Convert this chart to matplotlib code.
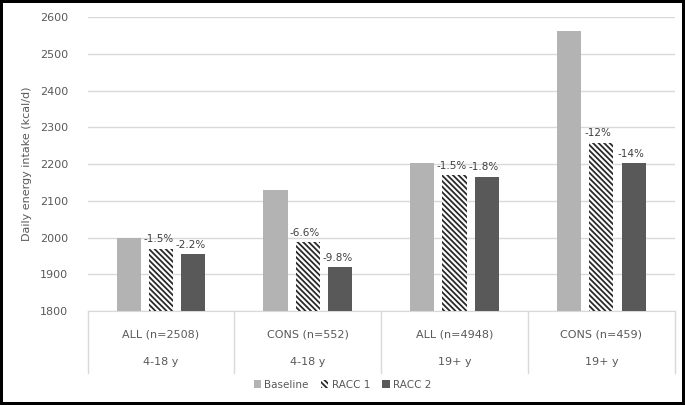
import matplotlib
matplotlib.use("Agg")
import matplotlib.pyplot as plt
import numpy as np
from matplotlib.patches import Patch

plt.rcParams['hatch.linewidth'] = 1.3

categories = ["ALL (n=2508)", "CONS (n=552)", "ALL (n=4948)", "CONS (n=459)"]
age_groups = ["4-18 y", "4-18 y", "19+ y", "19+ y"]
series_names = ["Baseline", "RACC 1", "RACC 2"]
baseline = [1998, 2128, 2202, 2562]
racc1 = [1970, 1988, 2170, 2258]
racc2 = [1955, 1920, 2165, 2202]
racc1_labels = ["-1.5%", "-6.6%", "-1.5%", "-12%"]
racc2_labels = ["-2.2%", "-9.8%", "-1.8%", "-14%"]
yticks = [1800, 1900, 2000, 2100, 2200, 2300, 2400, 2500, 2600]

txt = "#595959"
HATCH = "\\" * 6
fig = plt.figure(figsize=(6.85, 4.05), dpi=100)
fig.patch.set_edgecolor("black")
fig.patch.set_linewidth(3)
ax = fig.add_axes([0.128, 0.232, 0.857, 0.726])

x = np.arange(len(categories))
w = 0.165
sp = 0.22
ax.bar(x - sp, baseline, w, color="#b3b3b3", zorder=3)
ax.bar(x, racc1, w, color="white", edgecolor="#2a2a2a", hatch=HATCH, linewidth=0, zorder=3)
ax.bar(x + sp, racc2, w, color="#595959", zorder=3)

for i in range(len(categories)):
    ax.text(x[i] - 0.02, racc1[i] + 12, racc1_labels[i], ha="center", va="bottom",
            fontsize=7.5, color="#404040", zorder=4)
    ax.text(x[i] + sp - 0.02, racc2[i] + 12, racc2_labels[i], ha="center", va="bottom",
            fontsize=7.5, color="#404040", zorder=4)

ax.set_ylim(1800, 2600)
ax.set_xlim(-0.5, len(categories) - 0.5)
ax.set_yticks(yticks)
ax.set_yticklabels([str(v) for v in yticks], fontsize=8, color=txt)
ax.tick_params(axis="y", length=0, pad=14)
ax.set_xticks([])
ax.grid(axis="y", color="#d9d9d9", linewidth=1, zorder=0)
for s in ["top", "right", "left"]:
    ax.spines[s].set_visible(False)
ax.spines["bottom"].set_color("#d9d9d9")
ax.set_ylabel("Daily energy intake (kcal/d)", fontsize=8, color=txt, labelpad=6)

trans = ax.get_xaxis_transform()
for b in np.arange(-0.5, len(categories), 1.0):
    ax.plot([b, b], [0, -0.21], transform=trans, color="#d9d9d9", linewidth=1, clip_on=False)
for i in range(len(categories)):
    ax.text(x[i], -0.08, categories[i], transform=trans, ha="center", va="center",
            fontsize=8, color=txt)
    ax.text(x[i], -0.175, age_groups[i], transform=trans, ha="center", va="center",
            fontsize=8, color=txt)

handles = [Patch(facecolor="#b3b3b3"),
           Patch(facecolor="white", edgecolor="#2a2a2a", hatch=HATCH, linewidth=0),
           Patch(facecolor="#595959")]
fig.legend(handles, series_names, loc="center", bbox_to_anchor=(0.5, 0.05), ncol=3,
           frameon=False, fontsize=7.5, handlelength=0.7, handleheight=0.7,
           handletextpad=0.3, columnspacing=1.2, labelcolor=txt)

fig.savefig("out.png", dpi=100, edgecolor=fig.get_edgecolor())
